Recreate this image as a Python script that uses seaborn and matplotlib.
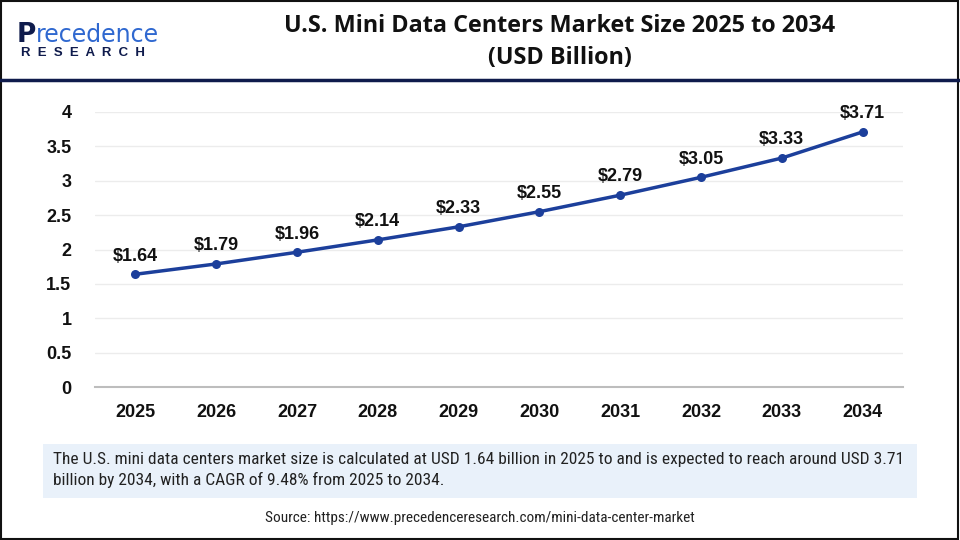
import matplotlib
matplotlib.use('Agg')
import matplotlib.pyplot as plt
import seaborn as sns
import pandas as pd
from matplotlib.patches import Rectangle

# ── 데이터 ───────────────────────────────────────────────
years = ['2025', '2026', '2027', '2028', '2029', '2030', '2031', '2032', '2033', '2034']
market_size = [1.64, 1.79, 1.96, 2.14, 2.33, 2.55, 2.79, 3.05, 3.33, 3.71]
y_ticks = [0, 0.5, 1, 1.5, 2, 2.5, 3, 3.5, 4]

TITLE = 'U.S. Mini Data Centers Market Size 2025 to 2034\n(USD Billion)'
NOTE = ('The U.S. mini data centers market size is calculated at USD 1.64 billion in 2025 to and is expected to reach around USD 3.71\n'
        'billion by 2034, with a CAGR of 9.48% from 2025 to 2034.')
SOURCE = 'Source: https://www.precedenceresearch.com/mini-data-center-market'

LINE_COLOR = '#1c3f9b'
NAVY = '#0f1b4c'
LOGO_BLUE = '#2f68d0'
NARROW = ['Roboto Condensed', 'Roboto', 'DejaVu Sans']

sns.set_theme(style='white')
plt.rcParams['font.family'] = ['Liberation Sans', 'DejaVu Sans']

df = pd.DataFrame({'idx': range(len(years)), 'value': market_size})

fig = plt.figure(figsize=(9.6, 5.4), dpi=100)

# ── 본 차트 ───────────────────────────────────────────────
ax = fig.add_axes([95 / 960, 1 - 387 / 540, (903 - 95) / 960, (387 - 112) / 540])
sns.lineplot(data=df, x='idx', y='value', ax=ax, color=LINE_COLOR, linewidth=2.5,
             marker='o', markersize=6.5, markeredgewidth=0)
for i, v in zip(df['idx'], df['value']):
    ax.annotate(f'${v:.2f}', (i, v), xytext=(0, 7), textcoords='offset points',
                ha='center', va='bottom', fontsize=13, fontweight='bold',
                color='#111111', annotation_clip=False)

ax.set_xlim(-0.5, 9.5)
ax.set_ylim(0, 4)
ax.set_xticks(range(len(years)))
ax.set_xticklabels(years)
ax.set_yticks(y_ticks)
ax.set_yticklabels([f'{t:g}' for t in y_ticks])
ax.tick_params(axis='both', length=0, labelsize=13, colors='#111111')
ax.tick_params(axis='x', pad=12)
ax.tick_params(axis='y', pad=17)
for lab in ax.get_xticklabels() + ax.get_yticklabels():
    lab.set_fontweight('bold')
ax.set_xlabel('')
ax.set_ylabel('')
ax.yaxis.grid(True, color='#ececec', linewidth=1)
ax.set_axisbelow(True)
for s in ['top', 'right', 'left']:
    ax.spines[s].set_visible(False)
ax.spines['bottom'].set_color('#bdbdbd')
ax.spines['bottom'].set_linewidth(1.5)

# ── 헤더 ─────────────────────────────────────────────────
fig.text(560 / 960, 1 - 42 / 540, TITLE, ha='center', va='center', fontsize=16.8,
         fontweight='bold', color='#111111', linespacing=1.45,
         family=['Open Sans', 'DejaVu Sans'])

# 로고 (텍스트로 대체)
p_txt = fig.text(17 / 960, 1 - 35 / 540, 'P', ha='left', va='center', fontsize=19,
                 fontweight='bold', color=NAVY, family=['DejaVu Sans'])
fig.canvas.draw()
p_box = p_txt.get_window_extent()
fig.text(p_box.x1 / 960, 1 - 35 / 540, 'recedence', ha='left', va='center', fontsize=17,
         color=LOGO_BLUE, family=['DejaVu Sans'])
fig.text(21 / 960, 1 - 53 / 540, 'R  E  S  E  A  R  C  H', ha='left', va='center',
         fontsize=9.5, fontweight='bold', color=NAVY)
fig.add_artist(plt.Line2D([0, 1], [1 - 80 / 540] * 2, color=NAVY, linewidth=2.5))

# ── 설명 박스 + 출처 ─────────────────────────────────────
fig.add_artist(Rectangle((43 / 960, 1 - 498 / 540), (917 - 43) / 960, 54 / 540,
                         facecolor='#e9f1fa', edgecolor='none'))
note = fig.text(53 / 960, 1 - 470 / 540, NOTE, ha='left', va='center', fontsize=11,
                color='#222222', linespacing=1.45, family=NARROW)
# 첫 줄이 박스 안(약 849px)에 들어가도록 글자 크기 맞춤
fig.canvas.draw()
probe = fig.text(0, 0, NOTE.split('\n')[0], fontsize=11, family=NARROW)
w = probe.get_window_extent().width
probe.remove()
note.set_fontsize(11 * 849 / w)
fig.text(480 / 960, 1 - 518 / 540, SOURCE, ha='center', va='center', fontsize=11,
         color='#222222', family=NARROW)

# 외곽 테두리
fig.add_artist(Rectangle((0.001, 0.002), 0.997, 0.996, fill=False,
                         edgecolor='#111111', linewidth=1.5))

fig.savefig('out.png', dpi=100)
